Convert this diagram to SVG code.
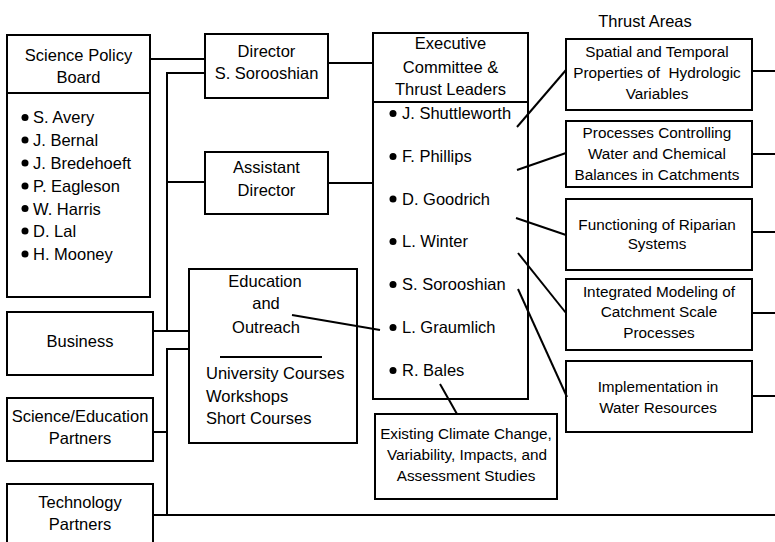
<svg xmlns="http://www.w3.org/2000/svg" width="775" height="542" viewBox="0 0 775 542">
<style>
.b{fill:#fff;stroke:#000;stroke-width:2}
.l{fill:none;stroke:#000;stroke-width:2}
text{font-family:"Liberation Sans",Arial,sans-serif;font-size:16.5px;fill:#000}
.s{font-size:15.3px}
.c{text-anchor:middle}
.d{fill:#000}
</style>
<rect width="775" height="542" fill="#fff"/>
<text class="c" x="645" y="27">Thrust Areas</text>
<g id="spb">
<rect class="b" x="7" y="35" width="143" height="262"/>
<path class="l" d="M7 93H150"/>
<text class="c" x="78.5" y="61">Science Policy</text>
<text class="c" x="78.5" y="83">Board</text>
<g class="d"><circle cx="25" cy="117.5" r="3.5"/><circle cx="25" cy="140" r="3.5"/><circle cx="25" cy="163" r="3.5"/><circle cx="25" cy="186" r="3.5"/><circle cx="25" cy="208.5" r="3.5"/><circle cx="25" cy="231" r="3.5"/><circle cx="25" cy="254" r="3.5"/></g>
<text x="33" y="123">S. Avery</text>
<text x="33" y="146">J. Bernal</text>
<text x="33" y="169">J. Bredehoeft</text>
<text x="33" y="192">P. Eagleson</text>
<text x="33" y="214.5">W. Harris</text>
<text x="33" y="237">D. Lal</text>
<text x="33" y="260">H. Mooney</text>
</g>
<g id="director">
<rect class="b" x="205" y="34" width="123" height="64"/>
<text class="c" x="266.5" y="57">Director</text>
<text class="c" x="266.5" y="79">S. Sorooshian</text>
</g>
<g id="assistant">
<rect class="b" x="205" y="152" width="123" height="62"/>
<text class="c" x="266.5" y="173">Assistant</text>
<text class="c" x="266.5" y="196">Director</text>
</g>
<g id="exec">
<rect class="b" x="373" y="33" width="155" height="366"/>
<path class="l" d="M373 102H528"/>
<text class="c" x="450.5" y="49">Executive</text>
<text class="c" x="450.5" y="73">Committee &amp;</text>
<text class="c" x="450.5" y="95">Thrust Leaders</text>
<g class="d"><circle cx="393" cy="113.5" r="3.5"/><circle cx="393" cy="156.5" r="3.5"/><circle cx="393" cy="199" r="3.5"/><circle cx="393" cy="241.5" r="3.5"/><circle cx="393" cy="284.5" r="3.5"/><circle cx="393" cy="327.5" r="3.5"/><circle cx="393" cy="370.5" r="3.5"/></g>
<text x="402" y="119">J. Shuttleworth</text>
<text x="402" y="162">F. Phillips</text>
<text x="402" y="204.5">D. Goodrich</text>
<text x="402" y="247">L. Winter</text>
<text x="402" y="290">S. Sorooshian</text>
<text x="402" y="333">L. Graumlich</text>
<text x="402" y="376">R. Bales</text>
</g>
<g id="spatial">
<rect class="b" x="566" y="39" width="186" height="71"/>
<text class="c s" x="657" y="57">Spatial and Temporal</text>
<text class="c s" x="657" y="78" xml:space="preserve">Properties of  Hydrologic</text>
<text class="c s" x="657" y="99">Variables</text>
</g>
<g id="processes">
<rect class="b" x="566" y="121" width="186" height="66"/>
<text class="c s" x="657" y="138">Processes Controlling</text>
<text class="c s" x="657" y="159">Water and Chemical</text>
<text class="c s" x="657" y="180">Balances in Catchments</text>
</g>
<g id="riparian">
<rect class="b" x="566" y="199" width="186" height="71"/>
<text class="c s" x="657" y="230">Functioning of Riparian</text>
<text class="c s" x="657" y="249">Systems</text>
</g>
<g id="integrated">
<rect class="b" x="566" y="279" width="186" height="71"/>
<text class="c s" x="659" y="297">Integrated Modeling of</text>
<text class="c s" x="659" y="317">Catchment Scale</text>
<text class="c s" x="659" y="338">Processes</text>
</g>
<g id="implementation">
<rect class="b" x="566" y="361" width="186" height="71"/>
<text class="c s" x="658" y="392">Implementation in</text>
<text class="c s" x="658" y="413">Water Resources</text>
</g>
<g id="climate">
<rect class="b" x="375" y="414" width="182" height="85"/>
<text class="c s" x="466" y="439">Existing Climate Change,</text>
<text class="c s" x="467" y="460">Variability, Impacts, and</text>
<text class="c s" x="466" y="481">Assessment Studies</text>
</g>
<g id="education">
<rect class="b" x="189" y="269" width="168" height="174"/>
<text class="c" x="265" y="287">Education</text>
<text class="c" x="266" y="309">and</text>
<text class="c" x="266" y="333">Outreach</text>
<path class="l" d="M220 357H322"/>
<text x="206" y="379">University Courses</text>
<text x="206" y="402">Workshops</text>
<text x="206" y="424">Short Courses</text>
</g>
<g id="business">
<rect class="b" x="7" y="312" width="146" height="63"/>
<text class="c" x="80" y="347">Business</text>
</g>
<g id="scied">
<rect class="b" x="7" y="398" width="146" height="63"/>
<text class="c" x="80" y="422">Science/Education</text>
<text class="c" x="80" y="444">Partners</text>
</g>
<g id="tech">
<rect class="b" x="7" y="484" width="146" height="70"/>
<text class="c" x="80" y="508">Technology</text>
<text class="c" x="80" y="530">Partners</text>
</g>
<g id="connectors" class="l">
<path d="M151 59H205"/>
<path d="M205 73H167V331"/>
<path d="M167 182H205"/>
<path d="M154 331H189"/>
<path d="M329 63H373"/>
<path d="M329 183H373"/>
<path d="M189 349H167V515"/>
<path d="M154 432H167"/>
<path d="M154 515H775"/>
<path d="M753 71H775"/>
<path d="M753 154H775"/>
<path d="M753 232H775"/>
<path d="M753 313H775"/>
<path d="M753 396H775"/>
<path d="M517 127L566 70"/>
<path d="M517 170L566 153"/>
<path d="M516 218L566 235"/>
<path d="M518 253L566 313"/>
<path d="M518 289L567 397"/>
<path d="M292 315L380 330"/>
<path d="M440 384L457 414"/>
</g>
</svg>
